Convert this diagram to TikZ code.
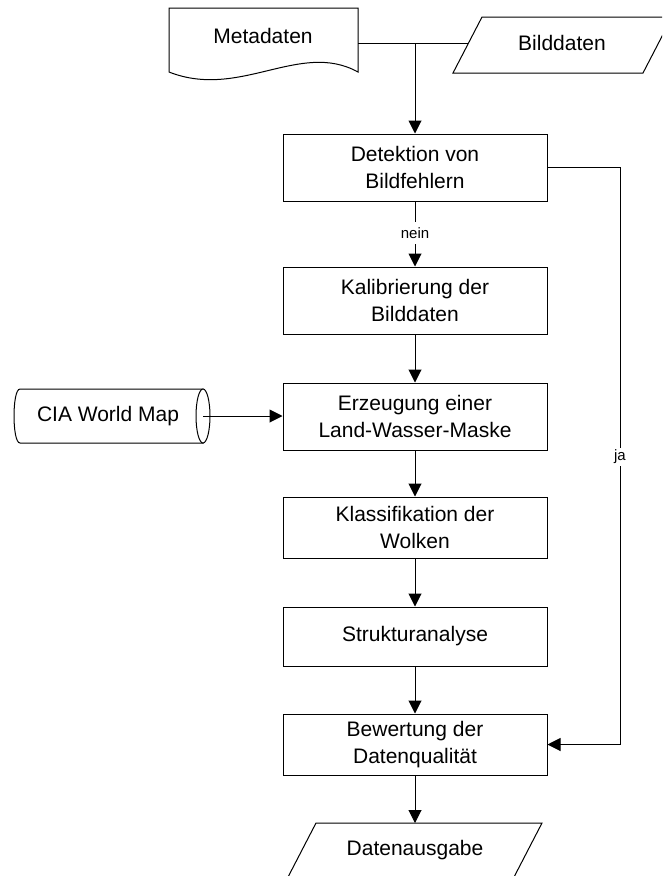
\documentclass[tikz,border=0pt]{standalone}
\usepackage{fontspec}
\setmainfont{Liberation Sans}
\usetikzlibrary{arrows.meta}

\tikzset{
  stepbox/.style={draw, line width=1pt, fill=white, minimum width=264pt,
    inner sep=0pt, align=center, font=\fontsize{21}{27}\selectfont},
  plain/.style={inner sep=0pt, align=center, font=\fontsize{21}{27}\selectfont},
  lbl/.style={fill=white, inner sep=2pt, font=\fontsize{15}{18}\selectfont},
  outline/.style={draw, line width=1pt, fill=white},
  flow/.style={line width=1pt, -{Triangle[length=13pt,width=13pt]}},
  link/.style={line width=1pt}
}

\begin{document}
\begin{tikzpicture}[x=1pt, y=-1pt]
\useasboundingbox (0,0) rectangle (662,876);
\clip (0,0) rectangle (662,876);

% document symbol for the metadata
\path[outline] (169,8) -- (358,8) -- (358,72)
  .. controls (300,40) and (240,100) .. (169,72) -- cycle;
\node[plain] (meta) at (263,36) {Metadaten};
\coordinate (meta-e) at (358,43);

% input parallelograms
\path[outline] (482,17) -- (672,17) -- (643,73) -- (453,73) -- cycle;
\node[plain] (bild) at (562,43) {Bilddaten};
\coordinate (bild-w) at (468,43);
\coordinate (join) at (415,43);

\path[outline] (316,823) -- (542,823) -- (513,879) -- (287,879) -- cycle;
\node[plain] (aus) at (415,850) {Datenausgabe};
\coordinate (aus-n) at (415,823);

% stored data cylinder
\path[outline] (20,389) -- (203,389) -- (203,443) -- (20,443)
  .. controls (12,443) and (12,389) .. (20,389) -- cycle;
\draw[line width=1pt, fill=white] (203,416) ellipse [x radius=7, y radius=27];
\node[plain] (cia) at (108,416) {CIA World Map};
\coordinate (cia-e) at (203,416);

% processing steps
\node[stepbox, minimum height=67pt] (det) at (415,167.5) {Detektion von\\Bildfehlern};
\node[stepbox, minimum height=67pt] (kal) at (415,300.5) {Kalibrierung der\\Bilddaten};
\node[stepbox, minimum height=67pt] (erz) at (415,416.5) {Erzeugung einer\\Land-Wasser-Maske};
\node[stepbox, minimum height=61pt] (kla) at (415,527.5) {Klassifikation der\\Wolken};
\node[stepbox, minimum height=59pt] (str) at (415,636.5) {Strukturanalyse};
\node[stepbox, minimum height=61pt] (bew) at (415,744.5) {Bewertung der\\Datenqualität};

% connectors
\draw[link] (meta-e) -- (bild-w);
\draw[flow] (join) -- (det.north);
\draw[link] (det.south) -- (415,222);
\draw[flow] (415,244) -- (kal.north);
\node[lbl] (nein) at (415,233) {nein};
\draw[flow] (kal) -- (erz);
\draw[flow] (cia-e) -- (cia-e -| erz.west);
\draw[flow] (erz) -- (kla);
\draw[flow] (kla) -- (str);
\draw[flow] (str) -- (bew);
\draw[flow] (bew) -- (aus-n);
\coordinate (ja-top) at (620,167.5);
\coordinate (ja-bot) at (620,744.5);
\draw[flow] (det.east) -- (ja-top) -- (ja-bot) -- (bew.east);
\node[lbl] (ja) at (620,457) {ja};
\end{tikzpicture}
\end{document}
